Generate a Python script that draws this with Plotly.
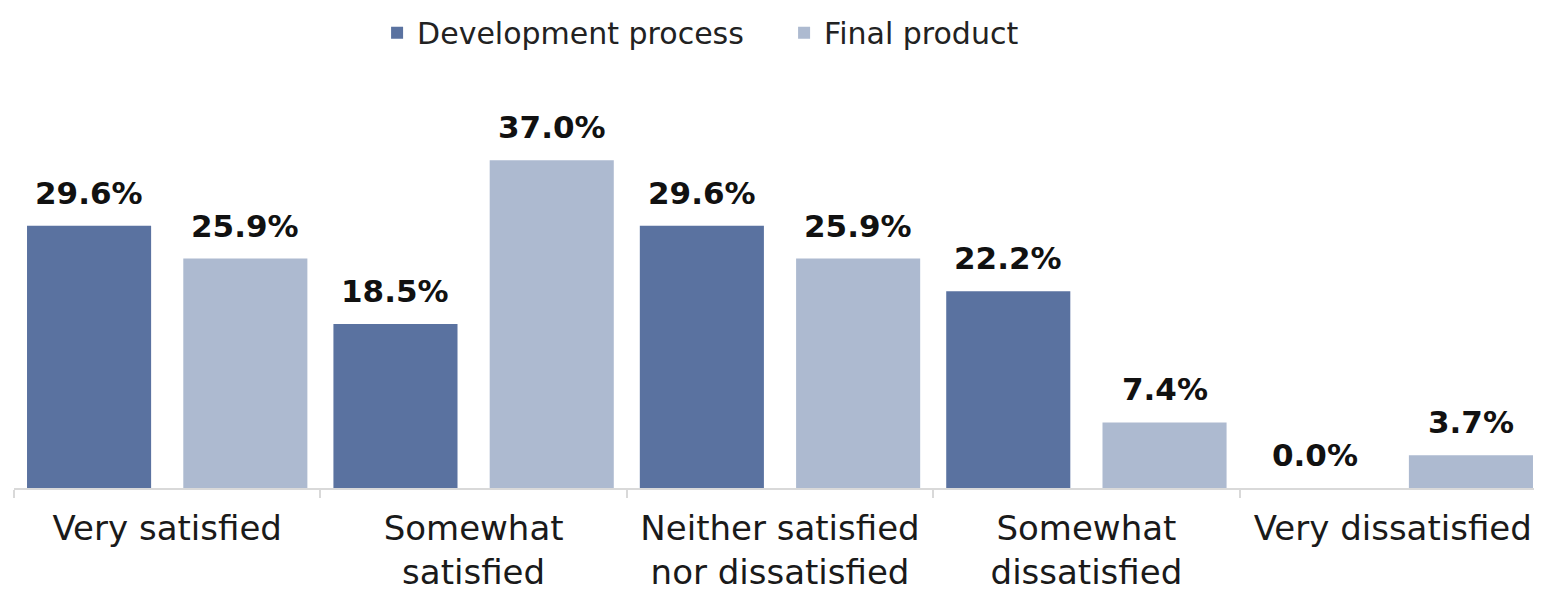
import plotly.graph_objects as go

categories = ["Very satisfied", "Somewhat<br>satisfied", "Neither satisfied<br>nor dissatisfied",
              "Somewhat<br>dissatisfied", "Very dissatisfied"]
series_names = ["Development process", "Final product"]
dev_values = [29.6, 18.5, 29.6, 22.2, 0.0]
final_values = [25.9, 37.0, 25.9, 7.4, 3.7]

colors = ["#5a72a0", "#adbad0"]
bar_w = 0.405
offsets = [-0.4575, 0.0525]

fig = go.Figure()
for name, vals, c, off in zip(series_names, [dev_values, final_values], colors, offsets):
    fig.add_trace(go.Bar(
        name=name, x=categories, y=vals,
        width=bar_w, offset=off,
        marker=dict(color=c, line=dict(width=0)),
        cliponaxis=False,
    ))
    for j, v in enumerate(vals):
        fig.add_annotation(
            x=j + off + bar_w / 2, y=v, xref="x", yref="y",
            text=f"<b>{v:.1f}%</b>", showarrow=False,
            yanchor="bottom", yshift=13,
            font=dict(family="DejaVu Sans", size=31, color="#111111"),
        )

fig.update_layout(
    width=1542, height=590,
    barmode="overlay",
    plot_bgcolor="white", paper_bgcolor="white",
    margin=dict(l=6, r=4, t=92, b=110),
    showlegend=True,
    legend=dict(orientation="h", x=0.237, xanchor="left", y=0.958, yanchor="middle",
                yref="container", font=dict(family="DejaVu Sans", size=30, color="#222222"),
                itemwidth=30, entrywidth=362, tracegroupgap=0),
    font=dict(family="DejaVu Sans"),
)
fig.update_xaxes(range=[-0.5, 4.5], showline=True, linecolor="#d9d9d9", linewidth=2,
                 ticks="outside", tickson="boundaries", ticklen=8, tickcolor="#d9d9d9", tickwidth=2,
                 tickfont=dict(family="DejaVu Sans", size=34, color="#1a1a1a"),
                 ticklabelstandoff=9,
                 showgrid=False)
fig.update_yaxes(range=[0, 43.8], visible=False, showgrid=False)

fig.write_html("out.html")
